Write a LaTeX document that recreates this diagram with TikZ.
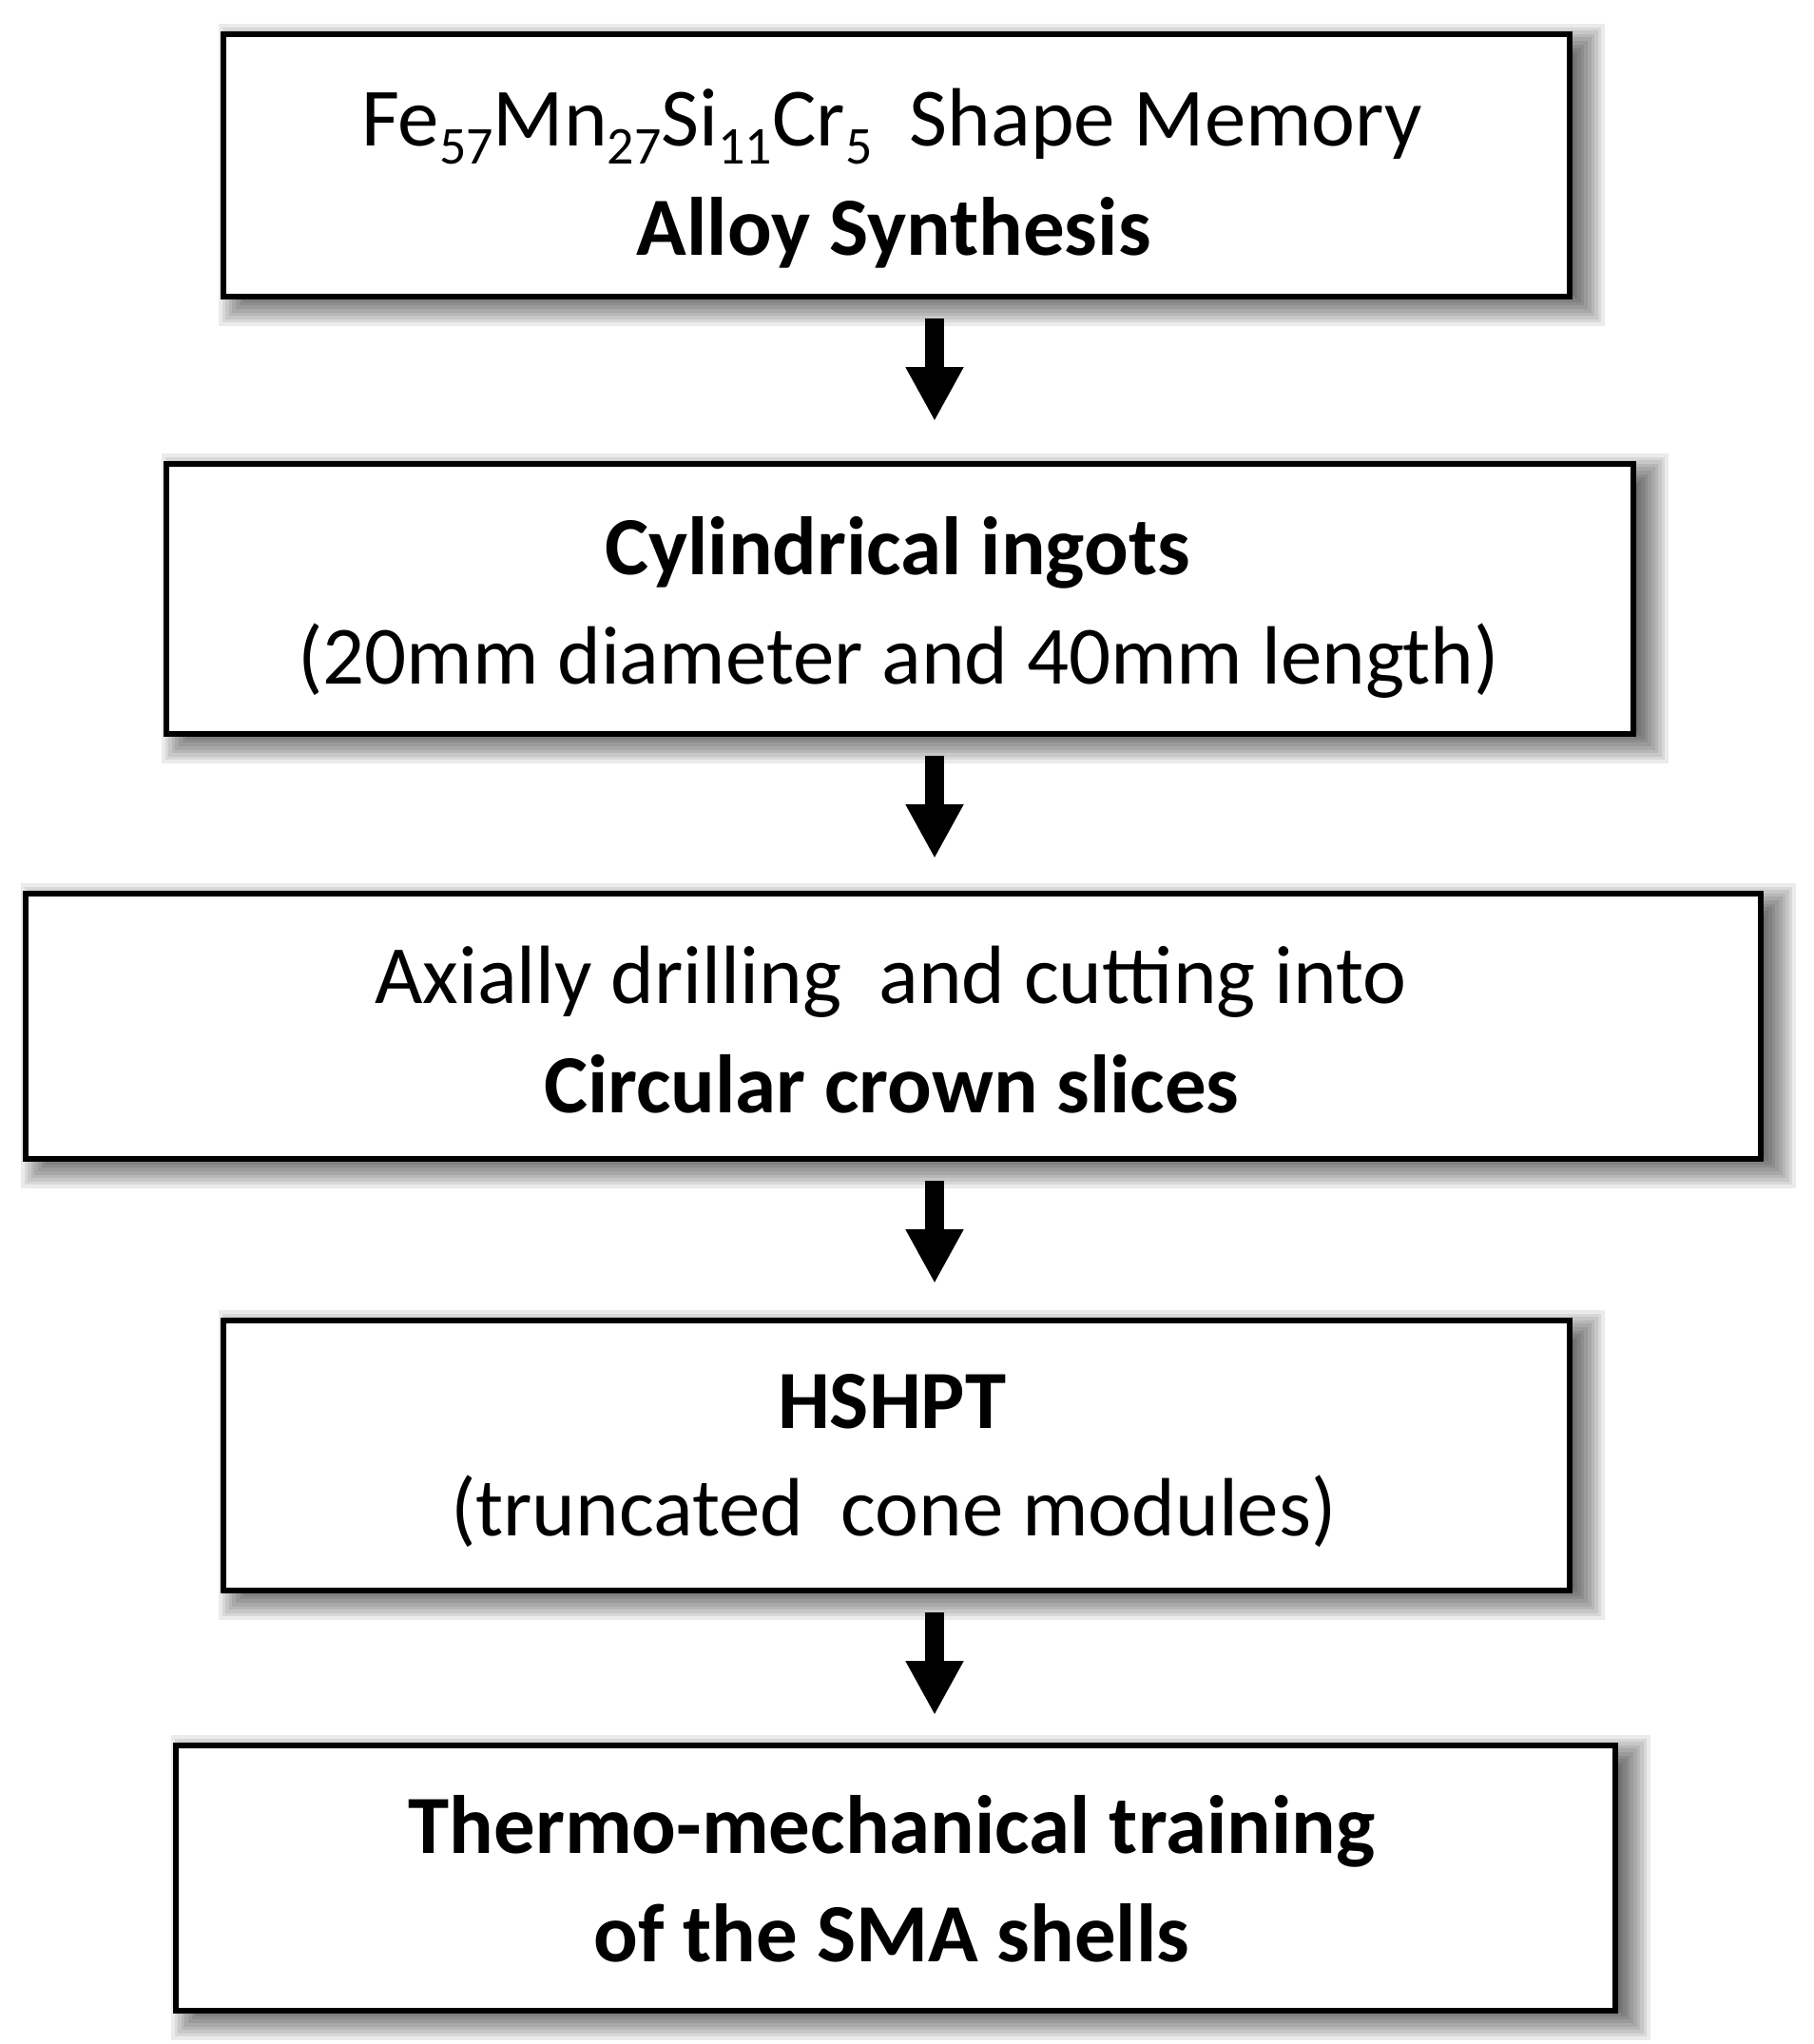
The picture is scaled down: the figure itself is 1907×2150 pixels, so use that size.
\documentclass[tikz,border=0pt]{standalone}
\usepackage{fontspec}
\setmainfont{Carlito}
\usetikzlibrary{arrows.meta,backgrounds,calc}
\newcommand\chemsub[1]{\raisebox{-19pt}{\fontsize{56}{56}\selectfont #1}}
\tikzset{
  box/.style={draw=black, line width=6pt, fill=white, rectangle, inner sep=0pt},
  txt/.style={anchor=base, inner sep=0pt, font=\fontsize{87}{100}\selectfont},
  txtb/.style={txt, font=\fontsize{87}{100}\selectfont\bfseries},
  arr/.style={line width=20pt, -{Triangle[width=57pt,length=57pt]}, shorten <=20pt},
}
\newcommand\softshadow[1]{%
  \begin{pgfonlayer}{background}
  \foreach \k in {0,...,10}{%
    \pgfmathsetmacro\ee{-18+3.6*\k}
    \fill[black,opacity=0.08]
      ($(#1.south west)+(16-\ee,-10-\ee)$) rectangle ($(#1.north east)+(16+\ee,-10+\ee)$);
  }
  \end{pgfonlayer}}
\begin{document}
\begin{tikzpicture}[x=1pt,y=1pt]
\useasboundingbox (0,0) rectangle (1907,-2150);
\begin{pgfonlayer}{background}
\fill[white] (0,0) rectangle (1907,-2150);
\end{pgfonlayer}

\node[box, minimum width=1416pt, minimum height=276pt] (b1) at (943,-174) {};
\node[box, minimum width=1543pt, minimum height=284pt] (b2) at (946.5,-630) {};
\node[box, minimum width=1825pt, minimum height=279pt] (b3) at (939.5,-1079.5) {};
\node[box, minimum width=1416pt, minimum height=284pt] (b4) at (943,-1531) {};
\node[box, minimum width=1514pt, minimum height=279pt] (b5) at (942,-1975.5) {};

\softshadow{b1}\softshadow{b2}\softshadow{b3}\softshadow{b4}\softshadow{b5}

\node[txt]  (t1a) at (938,-153) {Fe\chemsub{57}Mn\chemsub{27}Si\chemsub{11}Cr\chemsub{5}\ \ Shape Memory};
\node[txtb] (t1b) at (940,-268) {Alloy Synthesis};
\node[txtb] (t2a) at (944,-604) {Cylindrical ingots};
\node[txt]  (t2b) at (945,-719) {(20mm diameter and 40mm length)};
\node[txt]  (t3a) at (937,-1055) {Axially drilling\ \ and cutting into};
\node[txtb] (t3b) at (938,-1170) {Circular crown slices};
\node[txtb] (t4a) at (938,-1502) {HSHPT};
\node[txt]  (t4b) at (940,-1615) {(truncated\ \ cone modules)};
\node[txtb] (t5a) at (938,-1949) {Thermo-mechanical training};
\node[txtb] (t5b) at (938,-2063) {of the SMA shells};

\coordinate (ax) at (983,0);
\draw[arr, shorten >=42pt] (b1.south -| ax) -- (b2.north -| ax);
\draw[arr, shorten >=34pt] (b2.south -| ax) -- (b3.north -| ax);
\draw[arr, shorten >=36pt] (b3.south -| ax) -- (b4.north -| ax);
\draw[arr, shorten >=29pt] (b4.south -| ax) -- (b5.north -| ax);
\end{tikzpicture}
\end{document}
